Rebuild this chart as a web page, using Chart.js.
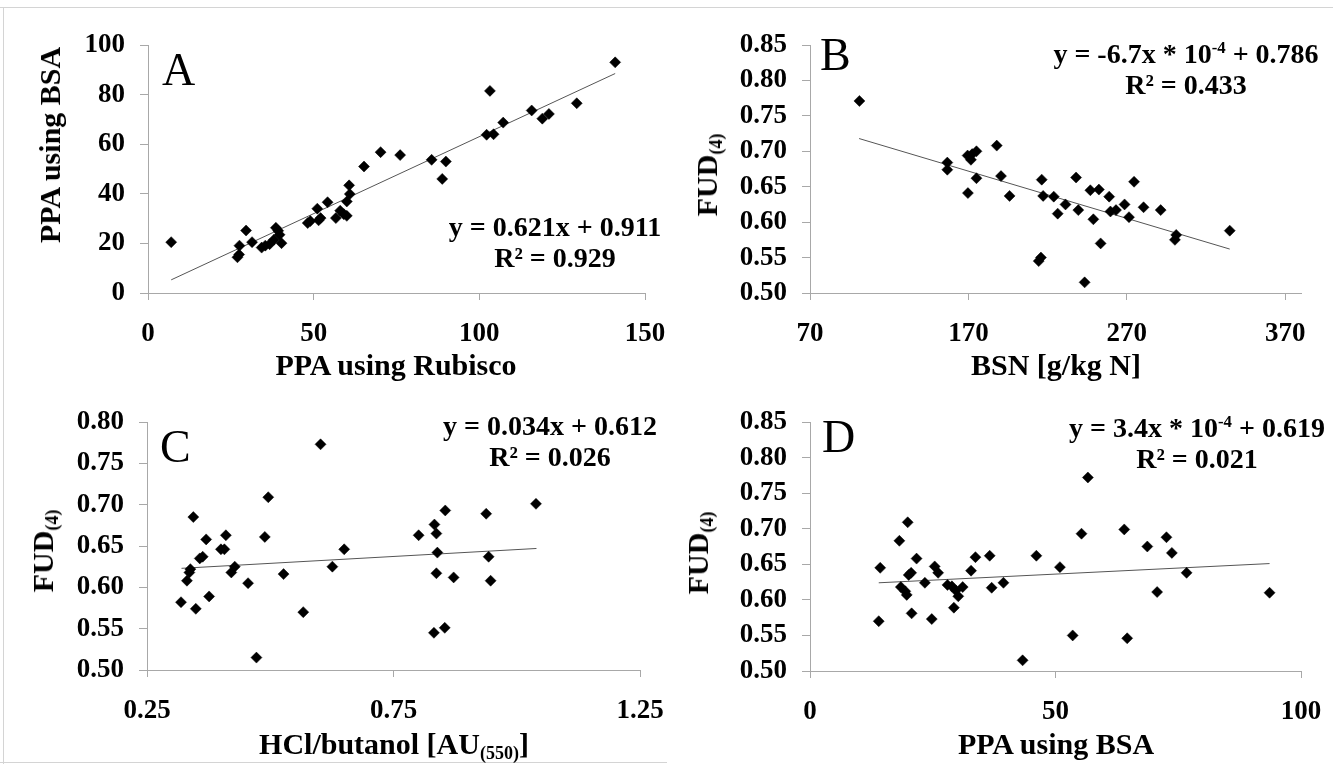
<!DOCTYPE html>
<html>
<head>
<meta charset="utf-8">
<script src="https://cdn.jsdelivr.net/npm/chart.js@4.4.1/dist/chart.umd.min.js"></script>
<style>
  body { margin: 0; background: #fff; }
  #page { position: relative; width: 1333px; height: 764px; overflow: hidden; font-family: "Liberation Serif", "Times New Roman", serif; color: #000; }
  canvas { position: absolute; }
  .frame { position: absolute; background: #d4d4d4; }
  .txt { position: absolute; white-space: nowrap; line-height: 1; }
  .letter { font-size: 46px; font-weight: normal; }
  .eq { font-size: 28px; font-weight: bold; line-height: 31px; text-align: center; transform: translateX(-50%); }
  .xt { font-size: 30px; font-weight: bold; transform: translateX(-50%); }
  .yt { font-size: 30px; font-weight: bold; transform: translate(-50%, -50%) rotate(-90deg); }
  sub { font-size: 0.6em; vertical-align: -0.3em; line-height: 0; }
  sup { font-size: 0.6em; vertical-align: 0.6em; line-height: 0; }
</style>
</head>
<body>
<div id="page">
  <div class="frame" style="left:0;top:7px;width:1333px;height:1px"></div>
  <div class="frame" style="left:3px;top:7px;width:1px;height:757px"></div>
  <div class="frame" style="left:0;top:762px;width:667px;height:1px"></div>

  <canvas id="chartA" width="666" height="382" style="left:0;top:0"></canvas>
  <canvas id="chartB" width="667" height="382" style="left:666px;top:0"></canvas>
  <canvas id="chartC" width="666" height="382" style="left:0;top:382px"></canvas>
  <canvas id="chartD" width="667" height="382" style="left:666px;top:382px"></canvas>

  <div class="txt letter" style="left:162px;top:47px">A</div>
  <div class="txt letter" style="left:820px;top:32px">B</div>
  <div class="txt letter" style="left:160px;top:424px">C</div>
  <div class="txt letter" style="left:822px;top:414px">D</div>

  <div class="txt eq" style="left:555px;top:211px">y = 0.621x + 0.911<br>R² = 0.929</div>
  <div class="txt eq" style="left:1186px;top:38px">y = -6.7x * 10<sup>-4</sup> + 0.786<br>R² = 0.433</div>
  <div class="txt eq" style="left:550px;top:410px">y = 0.034x + 0.612<br>R² = 0.026</div>
  <div class="txt eq" style="left:1197px;top:412px">y = 3.4x * 10<sup>-4</sup> + 0.619<br>R² = 0.021</div>

  <div class="txt xt" style="left:396px;top:350px">PPA using Rubisco</div>
  <div class="txt xt" style="left:1056px;top:350px">BSN [g/kg N]</div>
  <div class="txt xt" style="left:394px;top:729px">HCl/butanol [AU<sub>(550)</sub>]</div>
  <div class="txt xt" style="left:1056px;top:729px">PPA using BSA</div>

  <div class="txt yt" style="left:50px;top:145px">PPA using BSA</div>
  <div class="txt yt" style="left:707px;top:175px">FUD<sub>(4)</sub></div>
  <div class="txt yt" style="left:43px;top:551px">FUD<sub>(4)</sub></div>
  <div class="txt yt" style="left:698px;top:553px">FUD<sub>(4)</sub></div>
</div>

<script>
// A: PPA using Rubisco vs PPA using BSA
const rubiscoA = [7, 27, 27.5, 27.6, 29.6, 31.4, 34.3, 35.4, 36.7, 38, 38.6, 39.3, 39.7, 40.3,
  48.2, 49, 51.1, 51.5, 52.1, 54.2, 56.7, 58, 59.1, 60, 60, 60.9, 60.7, 65.2, 70.2, 76.1,
  85.6, 88.8, 89.9, 102.2, 104.3, 103.2, 107.2, 115.8, 119, 121, 129.4, 141];
const bsaA = [20.5, 14.4, 15.5, 19.1, 25.2, 20.5, 18.3, 19.1, 19.7, 21.5, 26.3, 25.1, 23.5, 20.1,
  28.2, 29, 34, 29.3, 30.2, 36.6, 30.2, 33.2, 31.8, 31.1, 36.9, 39.9, 43.4, 51, 56.8, 55.6,
  53.7, 46, 53, 63.8, 64, 81.5, 68.7, 73.6, 70.3, 72.2, 76.5, 93];
const trendAx = [7, 141];
const trendAy = [5.3, 88.5];

// B: BSN vs FUD(4)
const bsnB = [101.2, 156.7, 156.7, 169.7, 169.5, 171.6, 172.4, 175.1, 175.1, 187.9, 190.6, 196,
  216.3, 214.4, 215.8, 217.2, 223.9, 226.4, 231.3, 238, 239.4, 243.4, 247, 248.9, 252.4, 253.5,
  258.9, 259.7, 263.2, 268.6, 271.4, 274.6, 280.6, 291.4, 300.4, 301.2, 335];
const fudB = [0.771, 0.684, 0.674, 0.641, 0.694, 0.688, 0.696, 0.700, 0.662, 0.708, 0.665, 0.637,
  0.660, 0.545, 0.550, 0.637, 0.636, 0.612, 0.625, 0.663, 0.617, 0.515, 0.645, 0.604, 0.646, 0.570,
  0.636, 0.615, 0.617, 0.625, 0.607, 0.657, 0.621, 0.617, 0.575, 0.582, 0.588];
const trendBx = [101, 335];
const trendBy = [0.718, 0.562];

// C: HCl/butanol vs FUD(4)
const hclC = [0.319, 0.331, 0.336, 0.338, 0.344, 0.349, 0.357, 0.363, 0.370, 0.376, 0.400, 0.407,
  0.410, 0.421, 0.428, 0.455, 0.472, 0.489, 0.496, 0.527, 0.567, 0.602, 0.626, 0.650, 0.801,
  0.833, 0.837, 0.832, 0.839, 0.837, 0.855, 0.854, 0.872, 0.938, 0.943, 0.947, 1.039];
const fudC = [0.582, 0.608, 0.618, 0.622, 0.685, 0.574, 0.635, 0.637, 0.658, 0.589, 0.646, 0.646,
  0.663, 0.618, 0.625, 0.605, 0.515, 0.661, 0.709, 0.616, 0.570, 0.773, 0.625, 0.646, 0.663,
  0.676, 0.665, 0.545, 0.642, 0.617, 0.693, 0.551, 0.612, 0.689, 0.637, 0.608, 0.701];
const trendCx = [0.32, 1.04];
const trendCy = [0.623, 0.647];

// D: PPA using BSA vs FUD(4)
const bsaD = [14.3, 14, 18.2, 18.5, 19.4, 19.7, 19.9, 20.1, 20.6, 20.7, 21.7, 23.4, 24.8, 25.4,
  26.1, 28, 28.9, 29.3, 29.7, 30.2, 31.1, 32.8, 33.7, 36.6, 37, 39.4, 43.3, 46.1, 50.9, 53.5,
  55.3, 56.6, 64, 64.6, 68.7, 70.7, 72.6, 73.7, 76.7, 93.6];
const fudD = [0.645, 0.570, 0.683, 0.618, 0.612, 0.607, 0.709, 0.635, 0.638, 0.581, 0.658, 0.624,
  0.573, 0.647, 0.638, 0.621, 0.619, 0.589, 0.613, 0.605, 0.618, 0.641, 0.660, 0.662, 0.617,
  0.624, 0.515, 0.662, 0.646, 0.550, 0.693, 0.772, 0.699, 0.546, 0.675, 0.611, 0.688, 0.666,
  0.638, 0.610];
const trendDx = [14, 93.6];
const trendDy = [0.624, 0.651];

// tick labels
const ticksAx = [0, 50, 100, 150];
const ticksAy = [0, 20, 40, 60, 80, 100];
const ticksBx = [70, 170, 270, 370];
const ticksBy = [0.50, 0.55, 0.60, 0.65, 0.70, 0.75, 0.80, 0.85];
const ticksCx = [0.25, 0.75, 1.25];
const ticksCy = [0.50, 0.55, 0.60, 0.65, 0.70, 0.75, 0.80];
const ticksDx = [0, 50, 100];
const ticksDy = [0.50, 0.55, 0.60, 0.65, 0.70, 0.75, 0.80, 0.85];

const axisGray = '#a8a8a8';
const tickFont = { family: 'Liberation Serif', size: 27, weight: 'bold' };

function drawPanel(id, xs, ys, tx, ty, xTicks, yTicks, xMax, fmtX, fmtY, box) {
  const pts = xs.map((x, i) => ({ x: x, y: ys[i] }));
  const trend = tx.map((x, i) => ({ x: x, y: ty[i] }));
  return new Chart(document.getElementById(id), {
    type: 'scatter',
    data: {
      datasets: [
        { data: pts, pointStyle: 'rectRot', pointRadius: 5.5, backgroundColor: '#000',
          borderColor: '#000', borderWidth: 0.5, clip: false, order: 1 },
        { data: trend, showLine: true, borderColor: '#555', borderWidth: 1, pointRadius: 0,
          clip: false, order: 2 }
      ]
    },
    options: {
      responsive: false,
      animation: false,
      events: [],
      plugins: { legend: { display: false }, tooltip: { enabled: false } },
      layout: { padding: { left: 0, top: box.top, right: box.right, bottom: 0 } },
      scales: {
        x: {
          type: 'linear', min: xTicks[0], max: xMax,
          border: { color: axisGray, width: 1 },
          grid: { drawOnChartArea: false, color: axisGray, tickLength: 7 },
          ticks: { font: tickFont, color: '#000', padding: 18, maxRotation: 0,
                   callback: v => fmtX(v) },
          afterBuildTicks: s => { s.ticks = xTicks.map(v => ({ value: v })); },
          afterFit: s => { s.height = box.xh; s.paddingLeft = 0; s.paddingRight = 0; }
        },
        y: {
          type: 'linear', min: yTicks[0], max: yTicks[yTicks.length - 1],
          border: { color: axisGray, width: 1 },
          grid: { drawOnChartArea: false, color: axisGray, tickLength: 8 },
          ticks: { font: tickFont, color: '#000', padding: 15, callback: v => fmtY(v) },
          afterBuildTicks: s => { s.ticks = yTicks.map(v => ({ value: v })); },
          afterFit: s => { s.width = box.yw; s.paddingTop = 0; s.paddingBottom = 0; }
        }
      }
    }
  });
}

const int = v => String(Math.round(v));
const two = v => v.toFixed(2);

drawPanel('chartA', rubiscoA, bsaA, trendAx, trendAy, ticksAx, ticksAy, 150, int, int,
  { yw: 148, xh: 89, top: 45, right: 21 });
drawPanel('chartB', bsnB, fudB, trendBx, trendBy, ticksBx, ticksBy, 380, int, two,
  { yw: 144, xh: 89, top: 45, right: 32 });
drawPanel('chartC', hclC, fudC, trendCx, trendCy, ticksCx, ticksCy, 1.25, two, two,
  { yw: 147, xh: 94, top: 40, right: 26 });
drawPanel('chartD', bsaD, fudD, trendDx, trendDy, ticksDx, ticksDy, 100, int, two,
  { yw: 144, xh: 93, top: 40, right: 32 });
</script>
</body>
</html>
